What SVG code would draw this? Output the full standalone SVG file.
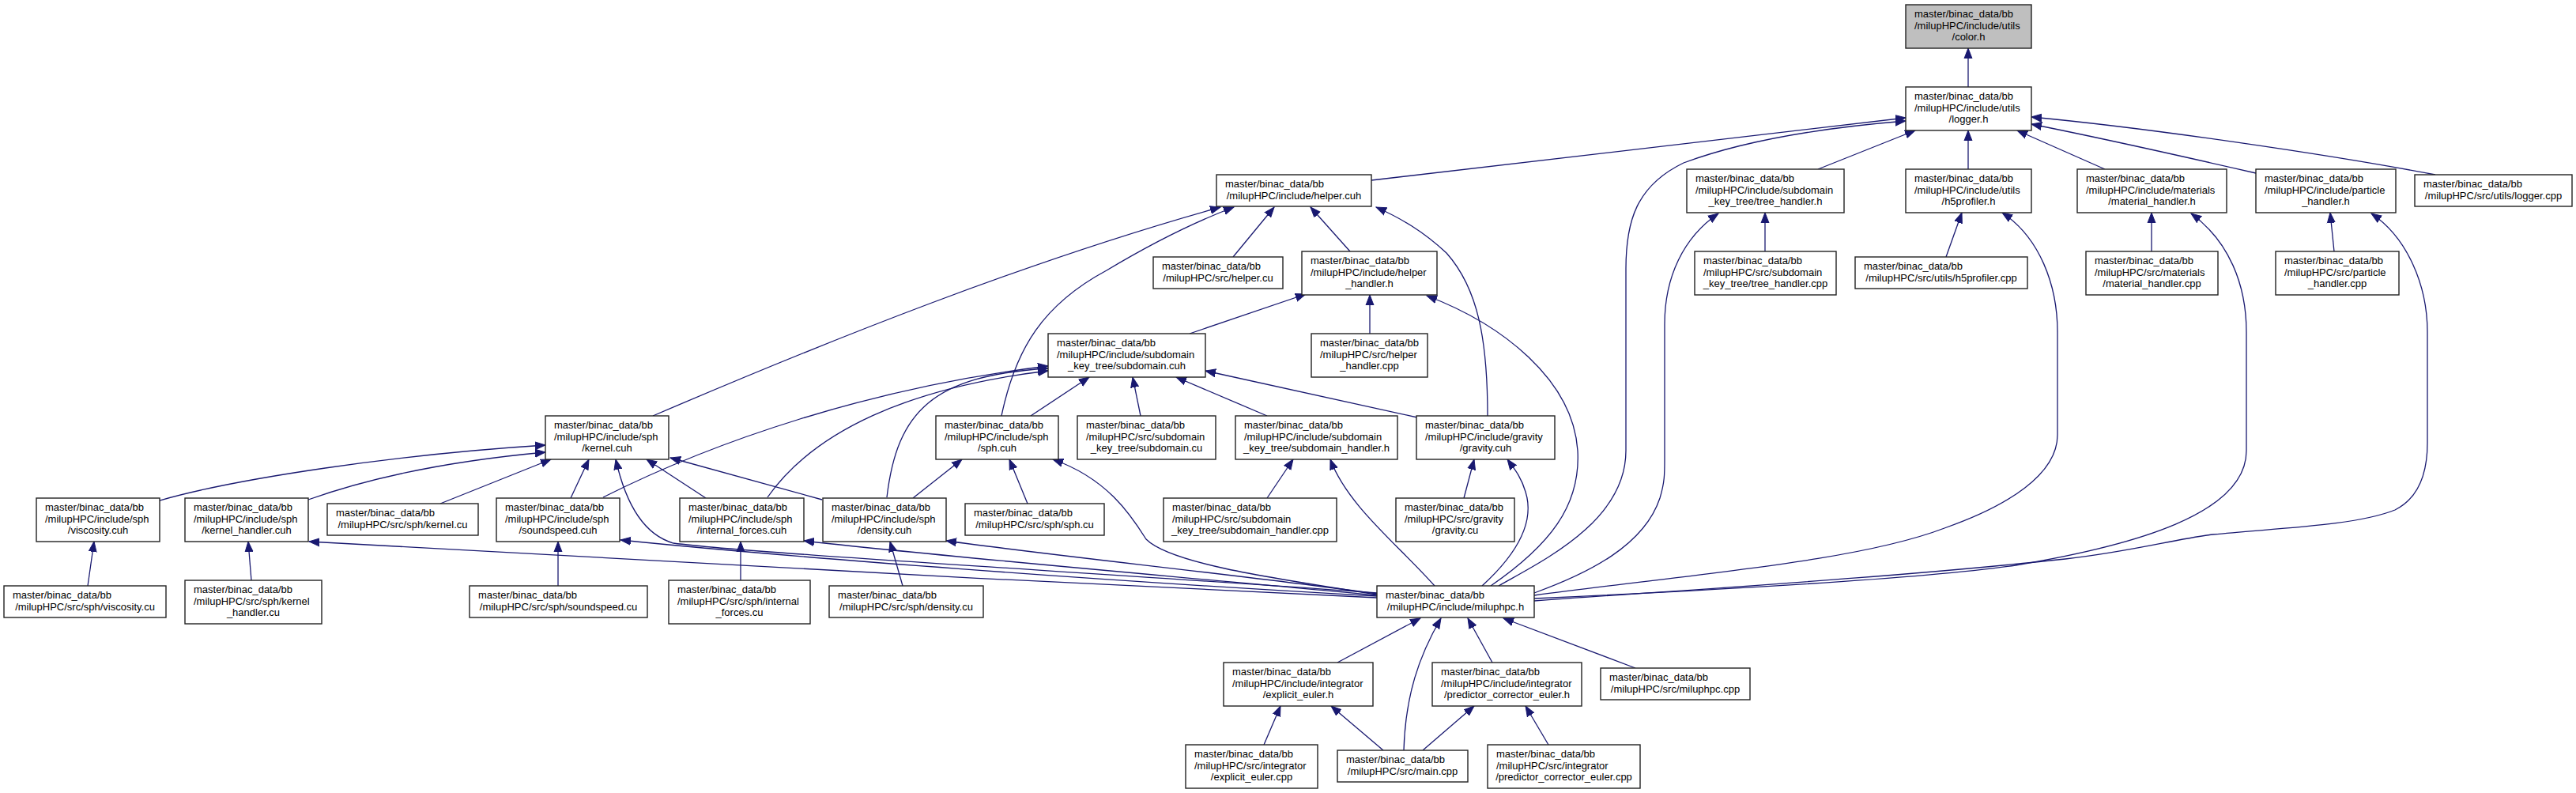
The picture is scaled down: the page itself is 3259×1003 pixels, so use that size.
<svg xmlns="http://www.w3.org/2000/svg" width="3259" height="1003" viewBox="0 0 3259 1003">
<style>
.n rect{fill:#fff;stroke:#222;stroke-width:1.4}
.n rect.g{fill:#bfbfbf}
.n text{font-family:"Liberation Sans",Arial,Helvetica,sans-serif;font-size:13px;fill:#000}
.n text.m{text-anchor:middle}
.c path{fill:none;stroke:#191970;stroke-width:1.3;marker-end:url(#a)}
</style>
<defs>
<marker id="a" markerUnits="userSpaceOnUse" viewBox="0 -6 14 12" markerWidth="14" markerHeight="12" refX="13" refY="0" orient="auto">
<path d="M0,-5 L13,0 L0,5 z" fill="#191970" stroke="#191970" stroke-width="1"/>
</marker>
</defs>
<rect width="3259" height="1003" fill="#fff"/>
<g id="connectors" class="c">
<path d="M2490,110 L2490,61"/>
<path d="M1735,228 L2411,149"/>
<path d="M1896,741 C1950,710 2057,660 2057,570 L2057,340 C2057,280 2070,235 2130,206 C2200,180 2300,162 2411,153"/>
<path d="M2300,214 L2423,165"/>
<path d="M2490,214 L2490,165"/>
<path d="M2663,214 L2552,165"/>
<path d="M2854,219 C2780,202 2650,173 2570,157"/>
<path d="M3081,221 C2950,196 2720,162 2570,148"/>
<path d="M1560,325 L1612,262"/>
<path d="M1708,318 L1658,262"/>
<path d="M826,526 C1050,430 1300,330 1544,262"/>
<path d="M1267,526 C1285,440 1320,385 1400,342 C1450,312 1500,285 1561,262"/>
<path d="M1882,526 C1882,430 1870,365 1830,320 C1800,292 1772,276 1741,262"/>
<path d="M2233,318 L2233,269"/>
<path d="M1941,750 C2010,725 2080,690 2100,630 C2106,610 2106,600 2106,580 L2106,410 C2106,350 2130,300 2174,270"/>
<path d="M2462,325 L2482,269"/>
<path d="M1941,753 C2150,725 2350,710 2460,668 C2540,640 2603,600 2603,550 L2603,420 C2603,360 2580,300 2533,269"/>
<path d="M2722,318 L2722,269"/>
<path d="M1941,757 C2200,745 2450,730 2550,715 C2700,690 2842,650 2842,570 L2842,420 C2842,360 2820,305 2772,270"/>
<path d="M2953,318 L2948,269"/>
<path d="M1941,760 C2150,745 2400,730 2613,707 C2700,697 2750,682 2800,676 C2880,668 2980,665 3030,645 C3060,630 3071,600 3071,560 L3071,420 C3071,360 3045,300 3000,270"/>
<path d="M1505,422 L1652,372"/>
<path d="M1733,422 L1733,373"/>
<path d="M1886,741 C1960,690 2000,640 1996,570 C1990,480 1900,410 1805,374"/>
<path d="M763,629 C900,560 1100,490 1326,463"/>
<path d="M971,629 C1030,545 1150,490 1326,469"/>
<path d="M1122,629 C1135,520 1180,475 1326,466"/>
<path d="M1304,526 L1378,477"/>
<path d="M1443,526 L1433,477"/>
<path d="M1603,526 L1488,477"/>
<path d="M1793,528 L1525,469"/>
<path d="M202,633 C300,605 500,575 690,563"/>
<path d="M390,632 C480,600 580,582 690,572"/>
<path d="M557,637 L697,581"/>
<path d="M722,630 L745,581"/>
<path d="M1742,750 C1400,725 950,700 852,687 C810,675 790,630 779,581"/>
<path d="M893,630 L818,581"/>
<path d="M1040,632 L848,579"/>
<path d="M1155,630 L1217,581"/>
<path d="M1300,637 L1277,581"/>
<path d="M1742,752 C1600,730 1480,712 1450,682 C1430,650 1400,605 1332,581"/>
<path d="M937,734 L937,685"/>
<path d="M1742,753 C1500,730 1200,705 1017,684"/>
<path d="M1142,741 L1126,685"/>
<path d="M1742,751 C1550,725 1350,705 1197,684"/>
<path d="M706,741 L706,685"/>
<path d="M1742,754 C1400,735 1000,705 785,683"/>
<path d="M318,734 L314,685"/>
<path d="M1742,756 C1300,735 700,705 391,685"/>
<path d="M111,741 L119,685"/>
<path d="M1852,630 L1865,581"/>
<path d="M1875,741 C1920,700 1942,660 1930,622 C1924,602 1915,592 1907,581"/>
<path d="M1603,630 L1636,581"/>
<path d="M1815,741 C1770,690 1705,640 1683,581"/>
<path d="M1692,838 L1797,782"/>
<path d="M1776,949 C1778,880 1795,830 1823,782"/>
<path d="M1888,838 L1857,782"/>
<path d="M2069,845 L1902,782"/>
<path d="M1599,942 L1620,893"/>
<path d="M1750,949 L1684,893"/>
<path d="M1800,949 L1865,893"/>
<path d="M1959,942 L1930,893"/>
</g>
<g id="n_color_h" class="n"><rect class="g" x="2411" y="6" width="159" height="55"/><text x="2422" y="22">master/binac_data/bb</text><text x="2422" y="36.7">/milupHPC/include/utils</text><text class="m" x="2490.5" y="51.4">/color.h</text></g>
<g id="n_logger_h" class="n"><rect x="2411" y="110" width="159" height="55"/><text x="2422" y="126">master/binac_data/bb</text><text x="2422" y="140.7">/milupHPC/include/utils</text><text class="m" x="2490.5" y="155.4">/logger.h</text></g>
<g id="n_helper_cuh" class="n"><rect x="1539" y="221" width="196" height="40"/><text x="1550" y="237.3">master/binac_data/bb</text><text class="m" x="1637" y="252">/milupHPC/include/helper.cuh</text></g>
<g id="n_tree_handler_h" class="n"><rect x="2134" y="214" width="199" height="55"/><text x="2145" y="230">master/binac_data/bb</text><text x="2145" y="244.7">/milupHPC/include/subdomain</text><text class="m" x="2233.5" y="259.4">_key_tree/tree_handler.h</text></g>
<g id="n_h5profiler_h" class="n"><rect x="2411" y="214" width="159" height="55"/><text x="2422" y="230">master/binac_data/bb</text><text x="2422" y="244.7">/milupHPC/include/utils</text><text class="m" x="2490.5" y="259.4">/h5profiler.h</text></g>
<g id="n_material_handler_h" class="n"><rect x="2628" y="214" width="189" height="55"/><text x="2639" y="230">master/binac_data/bb</text><text x="2639" y="244.7">/milupHPC/include/materials</text><text class="m" x="2722.5" y="259.4">/material_handler.h</text></g>
<g id="n_particle_handler_h" class="n"><rect x="2854" y="214" width="177" height="55"/><text x="2865" y="230">master/binac_data/bb</text><text x="2865" y="244.7">/milupHPC/include/particle</text><text class="m" x="2942.5" y="259.4">_handler.h</text></g>
<g id="n_logger_cpp" class="n"><rect x="3055" y="221" width="199" height="40"/><text x="3066" y="237.3">master/binac_data/bb</text><text class="m" x="3154.5" y="252">/milupHPC/src/utils/logger.cpp</text></g>
<g id="n_helper_cu" class="n"><rect x="1459" y="325" width="164" height="40"/><text x="1470" y="341.3">master/binac_data/bb</text><text class="m" x="1541" y="356">/milupHPC/src/helper.cu</text></g>
<g id="n_helper_handler_h" class="n"><rect x="1647" y="318" width="171" height="55"/><text x="1658" y="334">master/binac_data/bb</text><text x="1658" y="348.7">/milupHPC/include/helper</text><text class="m" x="1732.5" y="363.4">_handler.h</text></g>
<g id="n_tree_handler_cpp" class="n"><rect x="2144" y="318" width="179" height="55"/><text x="2155" y="334">master/binac_data/bb</text><text x="2155" y="348.7">/milupHPC/src/subdomain</text><text class="m" x="2233.5" y="363.4">_key_tree/tree_handler.cpp</text></g>
<g id="n_h5profiler_cpp" class="n"><rect x="2347" y="325" width="218" height="40"/><text x="2358" y="341.3">master/binac_data/bb</text><text class="m" x="2456" y="356">/milupHPC/src/utils/h5profiler.cpp</text></g>
<g id="n_material_handler_cpp" class="n"><rect x="2639" y="318" width="167" height="55"/><text x="2650" y="334">master/binac_data/bb</text><text x="2650" y="348.7">/milupHPC/src/materials</text><text class="m" x="2722.5" y="363.4">/material_handler.cpp</text></g>
<g id="n_particle_handler_cpp" class="n"><rect x="2879" y="318" width="156" height="55"/><text x="2890" y="334">master/binac_data/bb</text><text x="2890" y="348.7">/milupHPC/src/particle</text><text class="m" x="2957" y="363.4">_handler.cpp</text></g>
<g id="n_subdomain_cuh" class="n"><rect x="1326" y="422" width="199" height="55"/><text x="1337" y="438">master/binac_data/bb</text><text x="1337" y="452.7">/milupHPC/include/subdomain</text><text class="m" x="1425.5" y="467.4">_key_tree/subdomain.cuh</text></g>
<g id="n_helper_handler_cpp" class="n"><rect x="1659" y="422" width="147" height="55"/><text x="1670" y="438">master/binac_data/bb</text><text x="1670" y="452.7">/milupHPC/src/helper</text><text class="m" x="1732.5" y="467.4">_handler.cpp</text></g>
<g id="n_kernel_cuh" class="n"><rect x="690" y="526" width="156" height="55"/><text x="701" y="542">master/binac_data/bb</text><text x="701" y="556.7">/milupHPC/include/sph</text><text class="m" x="768" y="571.4">/kernel.cuh</text></g>
<g id="n_sph_cuh" class="n"><rect x="1184" y="526" width="155" height="55"/><text x="1195" y="542">master/binac_data/bb</text><text x="1195" y="556.7">/milupHPC/include/sph</text><text class="m" x="1261.5" y="571.4">/sph.cuh</text></g>
<g id="n_subdomain_cu" class="n"><rect x="1363" y="526" width="175" height="55"/><text x="1374" y="542">master/binac_data/bb</text><text x="1374" y="556.7">/milupHPC/src/subdomain</text><text class="m" x="1450.5" y="571.4">_key_tree/subdomain.cu</text></g>
<g id="n_subdomain_handler_h" class="n"><rect x="1563" y="526" width="205" height="55"/><text x="1574" y="542">master/binac_data/bb</text><text x="1574" y="556.7">/milupHPC/include/subdomain</text><text class="m" x="1665.5" y="571.4">_key_tree/subdomain_handler.h</text></g>
<g id="n_gravity_cuh" class="n"><rect x="1792" y="526" width="175" height="55"/><text x="1803" y="542">master/binac_data/bb</text><text x="1803" y="556.7">/milupHPC/include/gravity</text><text class="m" x="1879.5" y="571.4">/gravity.cuh</text></g>
<g id="n_viscosity_cuh" class="n"><rect x="46" y="630" width="156" height="55"/><text x="57" y="646">master/binac_data/bb</text><text x="57" y="660.7">/milupHPC/include/sph</text><text class="m" x="124" y="675.4">/viscosity.cuh</text></g>
<g id="n_kernel_handler_cuh" class="n"><rect x="234" y="630" width="156" height="55"/><text x="245" y="646">master/binac_data/bb</text><text x="245" y="660.7">/milupHPC/include/sph</text><text class="m" x="312" y="675.4">/kernel_handler.cuh</text></g>
<g id="n_kernel_cu" class="n"><rect x="414" y="637" width="191" height="40"/><text x="425" y="653.3">master/binac_data/bb</text><text class="m" x="509.5" y="668">/milupHPC/src/sph/kernel.cu</text></g>
<g id="n_soundspeed_cuh" class="n"><rect x="628" y="630" width="156" height="55"/><text x="639" y="646">master/binac_data/bb</text><text x="639" y="660.7">/milupHPC/include/sph</text><text class="m" x="706" y="675.4">/soundspeed.cuh</text></g>
<g id="n_internal_forces_cuh" class="n"><rect x="860" y="630" width="157" height="55"/><text x="871" y="646">master/binac_data/bb</text><text x="871" y="660.7">/milupHPC/include/sph</text><text class="m" x="938.5" y="675.4">/internal_forces.cuh</text></g>
<g id="n_density_cuh" class="n"><rect x="1041" y="630" width="156" height="55"/><text x="1052" y="646">master/binac_data/bb</text><text x="1052" y="660.7">/milupHPC/include/sph</text><text class="m" x="1119" y="675.4">/density.cuh</text></g>
<g id="n_sph_cu" class="n"><rect x="1221" y="637" width="176" height="40"/><text x="1232" y="653.3">master/binac_data/bb</text><text class="m" x="1309" y="668">/milupHPC/src/sph/sph.cu</text></g>
<g id="n_subdomain_handler_cpp" class="n"><rect x="1472" y="630" width="219" height="55"/><text x="1483" y="646">master/binac_data/bb</text><text x="1483" y="660.7">/milupHPC/src/subdomain</text><text class="m" x="1581.5" y="675.4">_key_tree/subdomain_handler.cpp</text></g>
<g id="n_gravity_cu" class="n"><rect x="1766" y="630" width="150" height="55"/><text x="1777" y="646">master/binac_data/bb</text><text x="1777" y="660.7">/milupHPC/src/gravity</text><text class="m" x="1841" y="675.4">/gravity.cu</text></g>
<g id="n_viscosity_cu" class="n"><rect x="5" y="741" width="205" height="40"/><text x="16" y="757.3">master/binac_data/bb</text><text class="m" x="107.5" y="772">/milupHPC/src/sph/viscosity.cu</text></g>
<g id="n_kernel_handler_cu" class="n"><rect x="234" y="734" width="173" height="55"/><text x="245" y="750">master/binac_data/bb</text><text x="245" y="764.7">/milupHPC/src/sph/kernel</text><text class="m" x="320.5" y="779.4">_handler.cu</text></g>
<g id="n_soundspeed_cu" class="n"><rect x="594" y="741" width="225" height="40"/><text x="605" y="757.3">master/binac_data/bb</text><text class="m" x="706.5" y="772">/milupHPC/src/sph/soundspeed.cu</text></g>
<g id="n_internal_forces_cu" class="n"><rect x="846" y="734" width="179" height="55"/><text x="857" y="750">master/binac_data/bb</text><text x="857" y="764.7">/milupHPC/src/sph/internal</text><text class="m" x="935.5" y="779.4">_forces.cu</text></g>
<g id="n_density_cu" class="n"><rect x="1049" y="741" width="195" height="40"/><text x="1060" y="757.3">master/binac_data/bb</text><text class="m" x="1146.5" y="772">/milupHPC/src/sph/density.cu</text></g>
<g id="n_miluphpc_h" class="n"><rect x="1742" y="741" width="199" height="40"/><text x="1753" y="757.3">master/binac_data/bb</text><text class="m" x="1841.5" y="772">/milupHPC/include/miluphpc.h</text></g>
<g id="n_explicit_euler_h" class="n"><rect x="1548" y="838" width="189" height="55"/><text x="1559" y="854">master/binac_data/bb</text><text x="1559" y="868.7">/milupHPC/include/integrator</text><text class="m" x="1642.5" y="883.4">/explicit_euler.h</text></g>
<g id="n_predictor_corrector_euler_h" class="n"><rect x="1812" y="838" width="189" height="55"/><text x="1823" y="854">master/binac_data/bb</text><text x="1823" y="868.7">/milupHPC/include/integrator</text><text class="m" x="1906.5" y="883.4">/predictor_corrector_euler.h</text></g>
<g id="n_miluphpc_cpp" class="n"><rect x="2025" y="845" width="189" height="40"/><text x="2036" y="861.3">master/binac_data/bb</text><text class="m" x="2119.5" y="876">/milupHPC/src/miluphpc.cpp</text></g>
<g id="n_explicit_euler_cpp" class="n"><rect x="1500" y="942" width="167" height="55"/><text x="1511" y="958">master/binac_data/bb</text><text x="1511" y="972.7">/milupHPC/src/integrator</text><text class="m" x="1583.5" y="987.4">/explicit_euler.cpp</text></g>
<g id="n_main_cpp" class="n"><rect x="1692" y="949" width="165" height="40"/><text x="1703" y="965.3">master/binac_data/bb</text><text class="m" x="1774.5" y="980">/milupHPC/src/main.cpp</text></g>
<g id="n_predictor_corrector_euler_cpp" class="n"><rect x="1882" y="942" width="193" height="55"/><text x="1893" y="958">master/binac_data/bb</text><text x="1893" y="972.7">/milupHPC/src/integrator</text><text class="m" x="1978.5" y="987.4">/predictor_corrector_euler.cpp</text></g>
</svg>
